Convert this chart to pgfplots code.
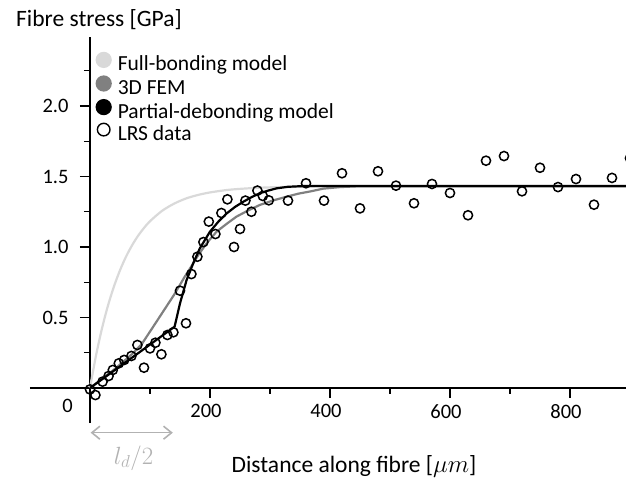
\documentclass[border=0pt]{standalone}
\usepackage{fontspec}
\setmainfont{Carlito}
\usepackage{pgfplots}
\pgfplotsset{compat=1.18}
\usetikzlibrary{arrows.meta}
\definecolor{fullc}{RGB}{217,217,217}
\definecolor{femc}{RGB}{128,128,128}
\definecolor{annc}{RGB}{178,178,178}
\begin{document}
\begin{tikzpicture}
\begin{axis}[
  x=0.6pt, y=141pt,
  axis lines=middle,
  axis line style={-, line width=1.5pt},
  xmin=-100, xmax=893.33, ymin=-0.25, ymax=2.49,
  clip=false,
  xtick={200,400,600,800}, xticklabels={200,400,600,800},
  minor xtick={100,300,500,700},
  ytick={0.5,1,1.5,2}, yticklabels={0.5,1.0,1.5,2.0},
  minor ytick={0.25,0.75,1.25,1.75,2.25},
  tick align=outside,
  major tick length=10pt, minor tick length=6pt,
  every tick/.style={line width=1.3pt, black},
  ticklabel style={font=\fontsize{20.5}{24}\selectfont},
  xticklabel style={anchor=north, yshift=-3pt, xshift=-4pt},
  yticklabel style={anchor=east, xshift=-8pt},
  legend style={at={(axis cs:4,2.40)}, anchor=north west, draw=none, fill=none,
    font=\fontsize{21.5}{25}\selectfont, row sep=-0.5pt,
    nodes={inner ysep=0pt, inner xsep=2pt, text height=15pt, text depth=5pt}},
  legend cell align=left,
]
\coordinate (bbsw) at (axis cs:-150,-0.6596);
\coordinate (bbne) at (axis cs:893.33,2.7518);

\addplot[fullc, line width=2.2pt, smooth,
  legend image code/.code={\fill[fullc] (0pt,6pt) circle (7pt); \path (11pt,6pt);}]
 coordinates {(0,0)(10,0.230)(20,0.423)(30,0.585)(40,0.721)(50,0.835)(60,0.931)(70,1.011)(80,1.079)(90,1.135)(100,1.183)(120,1.256)(140,1.307)(160,1.344)(180,1.369)(200,1.387)(230,1.405)(260,1.415)(300,1.423)(350,1.427)(400,1.430)(893.33,1.430)};
\addlegendentry{Full-bonding model}

\addplot[femc, line width=2.2pt,
  legend image code/.code={\fill[femc] (0pt,6pt) circle (7pt); \path (11pt,6pt);}]
 coordinates {(0,0)(40,0.13)(70,0.24)(86,0.31)(100,0.40)(120,0.53)(140,0.66)(158,0.79)(170,0.87)(180,0.94)(195,1.03)(211,1.109)(228,1.165)(244,1.215)(263,1.258)(283,1.298)(305,1.330)(328,1.357)(347,1.378)(367,1.394)(389,1.414)(417,1.425)(444,1.430)(893.33,1.430)};
\addlegendentry{3D FEM}

\addplot[black, line width=2.2pt,
  legend image code/.code={\fill[black] (0pt,6pt) circle (7pt); \path (11pt,6pt);}]
 coordinates {(0,0)(70,0.215)(141,0.435)(150,0.60)(161,0.766)(172,0.884)(183,0.99)(200,1.109)(214,1.18)(228,1.239)(242,1.285)(255.5,1.321)(270,1.355)(283,1.381)(297,1.400)(311,1.416)(330,1.427)(360,1.433)(893.33,1.433)};
\addlegendentry{Partial-debonding model}

\addplot[only marks, mark=o, mark size=4.6pt, mark options={line width=1.5pt, fill=white, draw=black},
  legend image code/.code={\draw[black, line width=1.4pt, fill=white] (0pt,6pt) circle (6.3pt); \path (11pt,6pt);}]
 coordinates {(0,-0.01)(9,-0.05)(21,0.045)(31,0.085)(38,0.128)(48,0.175)(57,0.199)(69,0.227)(79,0.305)(90,0.144)(100,0.281)(109,0.321)(119,0.239)(129,0.376)(139,0.395)(160,0.459)(150,0.69)(169,0.808)(179,0.931)(189,1.035)(198,1.18)(209,1.092)(219,1.241)(229,1.338)(240,1.0)(250,1.128)(259,1.329)(269,1.25)(279,1.40)(288,1.362)(298,1.331)(330,1.329)(360,1.452)(390,1.329)(420,1.523)(450,1.274)(480,1.537)(510,1.435)(540,1.31)(570,1.447)(600,1.383)(630,1.225)(660,1.612)(690,1.645)(720,1.395)(750,1.562)(780,1.425)(810,1.482)(840,1.30)(870,1.49)(900,1.63)};
\addlegendentry{LRS data}

\node[font=\fontsize{20.5}{24}\selectfont] at (axis cs:-37.5,-0.124) {0};
\node[font=\fontsize{23.5}{28}\selectfont] at (axis cs:15,2.61) {Fibre stress [GPa]};
\node[font=\fontsize{23.5}{28}\selectfont] at (axis cs:440,-0.553) {Distance along fibre [$\mu m$]};
\draw[annc, line width=1.6pt, {Straight Barb[length=8pt,width=13pt]}-{Straight Barb[length=8pt,width=13pt]}] (axis cs:1,-0.317) -- (axis cs:138,-0.317);
\node[annc, font=\fontsize{26}{30}\selectfont] at (axis cs:72.5,-0.496) {$l_d/2$};
\end{axis}
\pgfresetboundingbox
\useasboundingbox (bbsw) rectangle (bbne);
\end{tikzpicture}
\end{document}
